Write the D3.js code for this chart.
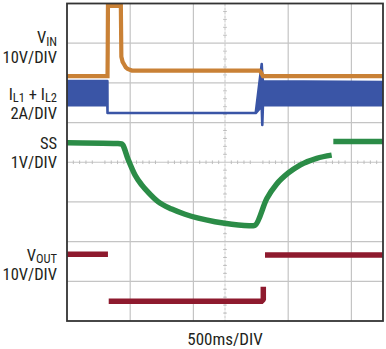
<!DOCTYPE html>
<html><head><meta charset="utf-8">
<script src="https://cdn.jsdelivr.net/npm/d3@7"></script>
<style>
html,body{margin:0;padding:0;background:#fff;}
svg{display:block;}
text{font-family:"Liberation Sans Narrow","Arial Narrow","Roboto Condensed",sans-serif;fill:#231f20;}
</style></head>
<body>
<svg id="c" width="386" height="349"></svg>
<script>
// ---- data (time in ms, 500 ms/div; channel values in physical units) ----
const timeDomain = [0, 5000];
const vinTrace = [ // [ms, V]
  [0,11.7],[641,11.7],[644,17.5],[648,29.4],[852,29.4],[860,16.6],[880,15.3],[902,14.7],[930,13.9],[960,13.5],[1028,13.1],
  [3040,13.1],[3060,12.9],[3101,11.7],[5000,11.7]
];
const ilTrace = [ // [ms, A low, A high]
  [0,0.40,1.61],[639,0.40,1.61],[641,0,0],[2986,0,0],[3081,0.35,2.47],[3090,-0.6,1.9],[3100,0.40,1.6],[5000,0.40,1.56]
];
const ssTrace = [ // [ms, V]; null = gap
  [0,2.49],[807,2.47],[866,2.46],[970,2.06],[1076,1.68],[1182,1.43],[1286,1.24],[1445,1.00],[1657,0.82],[1867,0.69],
  [2078,0.59],[2342,0.50],[2606,0.44],[2948,0.40],[2975,0.41],[3160,1.08],[3318,1.45],[3502,1.73],[3687,1.93],[3951,2.10],[4188,2.18],
  [4200,null],[4214,2.52],[5000,2.52]
];
const voutTrace = [ // [ms, V]; null = gap
  [0,11.8],[648,11.8],[655,null],[660,0],[3080,0],[3100,0.3],[3106,0.5],[3106,3.66],[3115,null],[3133,11.65],[5000,11.65]
];
const voltsPerDiv = {VIN:10, IL:2, SS:1, VOUT:10};
const labels = [
  {main:"V", sub:"IN", rest:""}, {main:"10V/DIV"},
  {main:"I", sub:"L1", rest:" + I", sub2:"L2"}, {main:"2A/DIV"},
  {main:"SS"}, {main:"1V/DIV"},
  {main:"V", sub:"OUT", rest:""}, {main:"10V/DIV"}
];
const xLabel = "500ms/DIV";

// ---- layout ----
const L=67, R=383, T=3.5, B=321;
const groundDiv = {VIN:5, IL:5.24, SS:2, VOUT:0.5}; // ground position in divisions from bottom
const labelBaselines = [43,62.5,99.5,118.5,149.3,168.3,260.7,280];

const svg = d3.select("#c");
const x = d3.scaleLinear().domain(timeDomain).range([L,R]);
const div = d3.scaleLinear().domain([0,8]).range([B,T]);
const ch = n => (v => div(groundDiv[n] + v/voltsPerDiv[n]));
const yV = ch("VIN"), yI = ch("IL"), yS = ch("SS"), yO = ch("VOUT");

svg.append("clipPath").attr("id","clip").append("rect").attr("x",L).attr("y",T).attr("width",R-L).attr("height",B-T);

// grid
const g = svg.append("g");
const xDiv = d3.scaleLinear().domain([0,10]).range([L,R]);
[2,4,7,9].forEach(d=>g.append("line").attr("x1",xDiv(d)).attr("x2",xDiv(d)).attr("y1",T).attr("y2",B).attr("stroke","#c4c4c4").attr("stroke-width",1.2));
g.append("line").attr("x1",xDiv(5)).attr("x2",xDiv(5)).attr("y1",T).attr("y2",B).attr("stroke","#cfcfcf").attr("stroke-width",1.2).attr("stroke-dasharray","3,1");
[1,2,3,4,5,6,7].forEach(d=>g.append("line").attr("x1",L).attr("x2",R).attr("y1",div(d)).attr("y2",div(d)).attr("stroke","#c4c4c4").attr("stroke-width",1.2));
// minor ticks on centre lines
d3.range(1,50).forEach(i=>{ if(i%5) g.append("line").attr("x1",xDiv(i/5)).attr("x2",xDiv(i/5)).attr("y1",div(4)-1.8).attr("y2",div(4)+1.8).attr("stroke","#bdbdbd").attr("stroke-width",1);});
d3.range(1,40).forEach(i=>{ if(i%5) g.append("line").attr("y1",div(i/5)).attr("y2",div(i/5)).attr("x1",xDiv(5)-1.8).attr("x2",xDiv(5)+1.8).attr("stroke","#bdbdbd").attr("stroke-width",1);});

const traces = svg.append("g").attr("clip-path","url(#clip)");
// IL band
traces.append("path").datum(ilTrace)
  .attr("d", d3.area().x(d=>x(d[0])).y0(d=>yI(d[1])).y1(d=>yI(d[2])))
  .attr("fill","#3a55a6").attr("stroke","#3a55a6").attr("stroke-width",2.6).attr("stroke-linejoin","round");
// VIN
traces.append("path").datum(vinTrace)
  .attr("d", d3.line().x(d=>x(d[0])).y(d=>yV(d[1])))
  .attr("fill","none").attr("stroke","#c98136").attr("stroke-width",4.2);
// SS
traces.append("path").datum(ssTrace)
  .attr("d", d3.line().defined(d=>d[1]!==null).x(d=>x(d[0])).y(d=>yS(d[1])).curve(d3.curveMonotoneX))
  .attr("fill","none").attr("stroke","#2b8c47").attr("stroke-width",5.5);
// VOUT
traces.append("path").datum(voutTrace)
  .attr("d", d3.line().defined(d=>d[1]!==null).x(d=>x(d[0])).y(d=>yO(d[1])))
  .attr("fill","none").attr("stroke","#8e1a2e").attr("stroke-width",5.5);

// frame
svg.append("rect").attr("x",L).attr("y",T).attr("width",R-L).attr("height",B-T).attr("fill","none").attr("stroke","#333").attr("stroke-width",1.8);

// labels
labels.forEach((lb,i)=>{
  const t = svg.append("text").attr("x",57).attr("y",labelBaselines[i]).attr("text-anchor","end").attr("font-size",16.5);
  t.append("tspan").text(lb.main);
  if(lb.sub){ t.append("tspan").attr("font-size",12.5).attr("dy",2.5).text(lb.sub); }
  if(lb.rest){ t.append("tspan").attr("font-size",16.5).attr("dy",-2.5).text(lb.rest); }
  if(lb.sub2){ t.append("tspan").attr("font-size",12.5).attr("dy",2.5).text(lb.sub2); }
});
svg.append("text").attr("x",(L+R)/2).attr("y",345).attr("text-anchor","middle").attr("font-size",17).text(xLabel);
</script>
</body></html>
